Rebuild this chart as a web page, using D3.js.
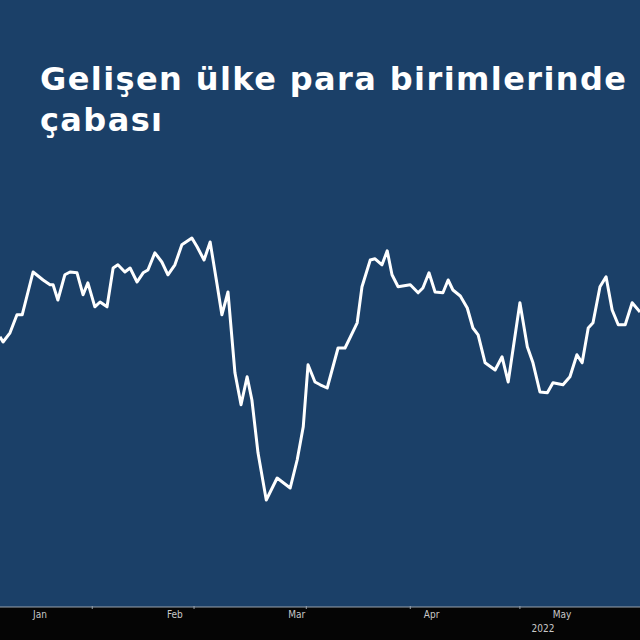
<!DOCTYPE html>
<html><head><meta charset="utf-8">
<script src="https://cdn.jsdelivr.net/npm/d3@7"></script>
<style>html,body{margin:0;padding:0;background:#000;}svg{display:block;}</style>
</head><body>
<script>
// day offset from 2022-01-01
const days = [-9.2,-8.5,-6.9,-5.3,-4.1,-1.6,0.7,2.3,3.0,4.1,5.7,6.9,8.5,9.9,11.0,12.6,13.8,15.4,16.8,17.9,19.5,20.7,22.3,23.7,24.8,26.4,28.0,29.4,31.0,32.6,34.9,36.1,37.7,39.1,40.7,41.8,43.2,44.8,46.2,47.6,48.7,50.1,52.0,54.5,57.5,59.1,60.5,61.6,63.2,64.4,66.0,68.5,70.1,72.9,74.0,75.9,77.0,78.6,79.8,80.9,82.3,85.1,86.9,88.0,89.4,90.8,92.6,93.8,94.9,96.6,98.2,99.5,100.7,102.3,104.6,106.2,107.6,110.3,112.0,113.3,114.9,116.6,117.9,120.2,121.8,123.4,124.6,126.0,127.1,128.7,130.1,131.5,132.9,134.5,136.1,137.9];
const values = [65.8,64.5,66.8,71.3,71.3,82,80,78.8,78.8,75,81.3,82,81.8,76.3,79.3,73.3,74.5,73.3,83,83.8,82,83,79.5,81.8,82.5,86.8,84.5,81.3,83.8,88.8,90.5,88.3,85,89.5,78.8,71.3,77,56.8,48.8,55.8,50,36.8,25,30.5,28,35,43.3,58.8,54.5,53.8,53,63,63,69.3,78.3,85,85.3,83.8,87.3,81.3,78.3,78.8,76.8,78,81.8,77,76.8,80,77.5,76,73,68,66.3,59.3,57.5,60.8,54.5,74.3,63.3,59.3,52,51.8,54.3,53.8,55.8,61.3,59.3,68,69.3,78.3,80.8,72.5,68.8,68.8,74.3,72];
const monthLabels = ["Jan","Feb","Mar","Apr","May"];
const monthDays = [0,31,59,90,120];
const tickDays = [12,35.4,61.2,85.1,110.3];
const yearLabel = "2022";
const titleLines = ["Gelişen ülke para birimlerinde","çabası"];

const base = Date.UTC(2022,0,1);
const toDate = d => new Date(base + d*864e5);
const W=640,H=640;
const svg = d3.select("body").append("svg").attr("width",W).attr("height",H);
svg.append("rect").attr("width",W).attr("height",607).attr("fill","#1b4068");
svg.append("rect").attr("y",607).attr("width",W).attr("height",33).attr("fill","#050505");

const x = d3.scaleUtc().domain([toDate(-9.2), toDate(137.9)]).range([0,640]);
const y = d3.scaleLinear().domain([0,100]).range([600,200]);

svg.append("line").attr("x1",0).attr("x2",W).attr("y1",607).attr("y2",607).attr("stroke","#9aa3ad").attr("stroke-width",1);
svg.selectAll(".tk").data(tickDays).join("line")
  .attr("x1",d=>x(toDate(d))).attr("x2",d=>x(toDate(d))).attr("y1",606).attr("y2",609)
  .attr("stroke","#9aa3ad");
svg.selectAll(".ml").data(monthLabels).join("text")
  .attr("x",(d,i)=>x(toDate(monthDays[i]))).attr("y",618)
  .attr("text-anchor","middle").attr("fill","#c8c8c8")
  .attr("font-family","'Liberation Sans Narrow','DejaVu Sans Condensed',sans-serif").attr("font-size",10).text(d=>d);
svg.append("text").attr("x",x(toDate(115.6))).attr("y",632).attr("text-anchor","middle")
  .attr("fill","#c8c8c8").attr("font-family","'Liberation Sans Narrow','DejaVu Sans Condensed',sans-serif").attr("font-size",10).text(yearLabel);

const line = d3.line().x((d,i)=>x(toDate(days[i]))).y(d=>y(d));
svg.append("path").datum(values).attr("d",line).attr("fill","none")
  .attr("stroke","#ffffff").attr("stroke-width",3).attr("stroke-linejoin","round");

svg.selectAll(".tt").data(titleLines).join("text")
  .attr("x",40).attr("y",(d,i)=>90+i*41).attr("fill","#fff")
  .attr("font-family","'DejaVu Sans',sans-serif").attr("font-weight","bold").attr("font-size",32)
  .attr("letter-spacing",1.4).text(d=>d);
</script>
</body></html>
